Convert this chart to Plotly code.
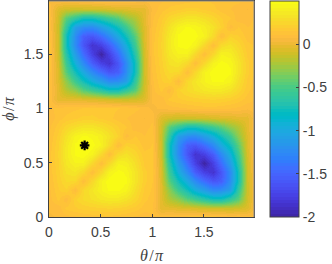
import plotly.graph_objects as go
import numpy as np

# theta, phi positions in units of pi
grid_pi = [i / 12 for i in range(25)]

# values read for theta, phi both in [0, pi)
same_half = [
 [.06,.08,.09,.10,.11,.12,.13,.13,.12,.11,.10,.08],
 [.08,.08,.16,.18,.20,.21,.22,.23,.22,.20,.17,.13],
 [.09,.16,.08,.22,.27,.31,.35,.37,.36,.32,.25,.16],
 [.10,.18,.22,.09,.26,.34,.42,.47,.47,.43,.30,.18],
 [.11,.20,.27,.26,.10,.26,.42,.49,.50,.47,.34,.20],
 [.12,.21,.31,.34,.26,.10,.26,.43,.48,.45,.34,.20],
 [.13,.22,.35,.42,.42,.26,.10,.26,.42,.40,.30,.18],
 [.13,.23,.37,.47,.49,.43,.26,.10,.27,.32,.25,.16],
 [.12,.22,.36,.47,.50,.48,.42,.27,.10,.22,.19,.13],
 [.11,.20,.32,.43,.47,.45,.40,.32,.22,.09,.15,.11],
 [.10,.17,.25,.30,.34,.34,.30,.25,.19,.15,.08,.09],
 [.08,.13,.16,.18,.20,.20,.18,.16,.13,.11,.09,.07],
]
# values read for theta in [0, pi), phi in [pi, 2pi)
other_half = [
 [.10,.12,.13,.14,.15,.16,.16,.16,.15,.14,.12,.10],
 [.10,-.03,-.03,-.03,-.05,-.06,-.08,-.10,-.11,-.12,-.10,-.06],
 [.12,-.03,-.20,-.30,-.45,-.55,-.65,-.75,-.75,-.60,-.45,-.10],
 [.12,-.05,-.30,-.55,-.75,-.95,-1.10,-1.25,-1.22,-1.10,-.60,-.12],
 [.13,-.06,-.45,-.75,-1.00,-1.25,-1.45,-1.60,-1.55,-1.22,-.75,-.11],
 [.14,-.08,-.55,-.95,-1.25,-1.55,-1.75,-1.85,-1.60,-1.25,-.75,-.11],
 [.15,-.10,-.65,-1.10,-1.45,-1.75,-2.00,-1.75,-1.45,-1.10,-.65,-.10],
 [.14,-.11,-.75,-1.25,-1.60,-1.85,-1.75,-1.55,-1.25,-.95,-.55,-.08],
 [.13,-.11,-.75,-1.22,-1.55,-1.60,-1.45,-1.25,-1.00,-.75,-.45,-.06],
 [.12,-.12,-.60,-1.10,-1.22,-1.25,-1.10,-.95,-.75,-.55,-.30,-.05],
 [.12,-.10,-.45,-.60,-.75,-.75,-.65,-.55,-.45,-.30,-.20,-.03],
 [.10,-.06,-.10,-.12,-.11,-.11,-.10,-.08,-.06,-.05,-.03,-.03],
]
star_theta = [0.345]
star_phi = [0.66]

x_ticks = [0, 0.5, 1, 1.5]
x_labels = ["0", "0.5", "1", "1.5"]
bar_ticks = [0, -0.5, -1, -1.5, -2]
bar_labels = ["0", "-0.5", "-1", "-1.5", "-2"]

parula = [
 (.2422,.1504,.6603),(.2504,.1650,.7076),(.2578,.1818,.7511),(.2647,.1978,.7952),
 (.2706,.2147,.8364),(.2751,.2342,.8710),(.2783,.2559,.8991),(.2803,.2782,.9221),
 (.2813,.3006,.9414),(.2810,.3228,.9579),(.2795,.3447,.9717),(.2760,.3667,.9829),
 (.2699,.3892,.9906),(.2602,.4123,.9952),(.2440,.4358,.9988),(.2206,.4603,.9973),
 (.1963,.4847,.9892),(.1834,.5074,.9798),(.1786,.5289,.9682),(.1764,.5499,.9520),
 (.1687,.5703,.9359),(.1540,.5902,.9218),(.1460,.6091,.9079),(.1380,.6276,.8973),
 (.1248,.6459,.8883),(.1113,.6635,.8763),(.0952,.6798,.8598),(.0689,.6948,.8394),
 (.0297,.7082,.8163),(.0036,.7197,.7917),(.0067,.7313,.7660),(.0433,.7411,.7394),
 (.0964,.7500,.7120),(.1408,.7584,.6842),(.1717,.7670,.6554),(.1938,.7758,.6251),
 (.2161,.7843,.5923),(.2470,.7918,.5567),(.2906,.7973,.5188),(.3406,.8008,.4789),
 (.3909,.8029,.4354),(.4456,.8024,.3909),(.5044,.7993,.3480),(.5616,.7942,.3045),
 (.6174,.7876,.2612),(.6720,.7793,.2227),(.7242,.7698,.1910),(.7738,.7598,.1646),
 (.8203,.7498,.1535),(.8634,.7406,.1596),(.9035,.7330,.1774),(.9393,.7288,.2100),
 (.9728,.7298,.2394),(.9956,.7434,.2371),(.9970,.7659,.2199),(.9952,.7893,.2028),
 (.9892,.8136,.1885),(.9786,.8386,.1766),(.9676,.8639,.1643),(.9610,.8890,.1537),
 (.9597,.9135,.1423),(.9628,.9373,.1265),(.9691,.9606,.1064),(.9769,.9839,.0805),
]
colorscale = []
n = len(parula)
for k, (r, g, b) in enumerate(parula):
    c = f"rgb({round(r*255)},{round(g*255)},{round(b*255)})"
    colorscale += [[k / n, c], [(k + 1) / n, c]]

A = np.array(same_half)
B = np.array(other_half)
Z = np.vstack([np.hstack([A, B.T]), np.hstack([B, A])])
Z = np.vstack([Z, Z[:1]])
Z = np.hstack([Z, Z[:, :1]])

INK = "#404040"
SOFT = "#8c8c8c"
FONT = "Liberation Sans"

fig = go.Figure()
fig.add_trace(go.Heatmap(
    x=grid_pi, y=grid_pi, z=Z, zmin=-2, zmax=0.5, zsmooth="best",
    colorscale=colorscale, hoverinfo="skip",
    colorbar=dict(
        x=1 + 16 / 207.5, xanchor="left", xpad=0, y=0.5, yanchor="middle", ypad=0,
        len=1, lenmode="fraction", thickness=29, thicknessmode="pixels",
        tickmode="array", tickvals=bar_ticks, ticktext=bar_labels,
        ticks="inside", ticklen=3, tickcolor=INK, tickwidth=1,
        outlinecolor=INK, outlinewidth=1,
        tickfont=dict(family=FONT, size=14, color=INK),
    ),
))
fig.add_trace(go.Scatter(
    x=star_theta, y=star_phi, mode="markers", hoverinfo="skip", showlegend=False,
    marker=dict(symbol="asterisk-open", size=8, color="black", line=dict(color="black", width=2.2)),
))
axis = dict(
    tickmode="array", tickvals=x_ticks, ticktext=x_labels, range=[0, 1.985],
    ticks="inside", ticklen=3, tickcolor=INK, tickwidth=1,
    showline=True, linecolor=INK, linewidth=1, mirror=True, showgrid=False, zeroline=False,
    tickfont=dict(family=FONT, size=14, color=INK), ticklabelstandoff=2,
)
fig.update_layout(
    width=332, height=264, autosize=False,
    margin=dict(l=49, r=75.5, t=1, b=47),
    paper_bgcolor="white", plot_bgcolor="white",
    xaxis=dict(axis, title=dict(text="<i>θ</i>\u200a/\u200a<i>π</i>", standoff=12,
               font=dict(family="Liberation Serif", size=16, color=INK))),
    yaxis=dict(axis, range=[0, 1.99], title=dict(text="<i>ϕ</i>\u200a/\u200a<i>π</i>", standoff=8,
               font=dict(family="Liberation Serif", size=16, color=INK))),
    shapes=[
        dict(type="line", xref="paper", yref="paper", x0=0, x1=1, y0=1, y1=1,
             line=dict(color=SOFT, width=1)),
        dict(type="line", xref="paper", yref="paper", x0=1, x1=1, y0=0, y1=1,
             line=dict(color=SOFT, width=1)),
    ],
)
fig.write_html("out.html", config=dict(displayModeBar=False),
               post_script="document.body.style.margin='0';document.body.style.overflow='hidden';")
